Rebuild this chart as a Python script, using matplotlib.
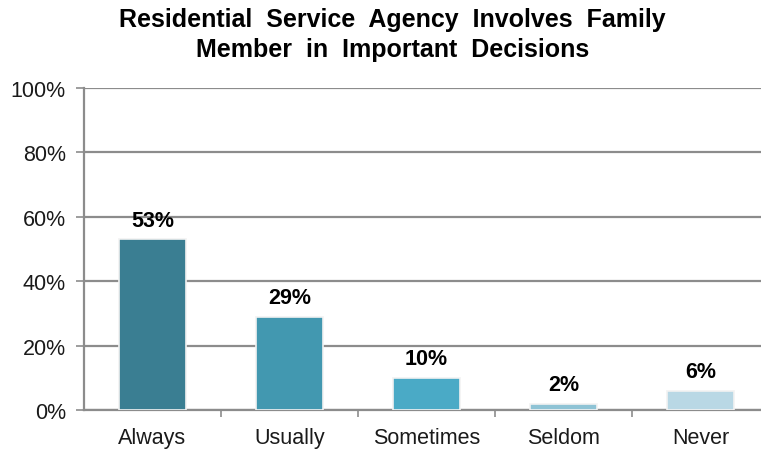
import matplotlib.pyplot as plt
import numpy as np
from matplotlib.ticker import FixedLocator, PercentFormatter

plt.rcParams['font.family'] = ['Liberation Sans', 'DejaVu Sans']

categories = ['Always', 'Usually', 'Sometimes', 'Seldom', 'Never']
shares = [53, 29, 10, 2, 6]
bar_colors = ['#3a7e92', '#4298b0', '#4aaac6', '#8ec3d5', '#b9d8e5']

fig = plt.figure(figsize=(7.61, 4.52), dpi=100)
ax = fig.add_axes([0.1104, 0.0907, 0.900, 0.7124])

x = np.arange(len(categories))
ax.set_xlim(-0.5, len(categories) - 0.5)
ax.set_ylim(0, 100)

# gridlines behind the bars
ax.set_axisbelow(True)
ax.yaxis.grid(True, color='#8c8c8c', linewidth=1.6)

bars = ax.bar(x, shares, width=0.49, color=bar_colors,
              edgecolor='#f2f2f2', linewidth=1.2, zorder=3)

for xi, v in zip(x, shares):
    ax.annotate(f'{v}%', (xi, v), xytext=(0, 6), textcoords='offset points',
                ha='center', va='bottom', fontsize=15.5, fontweight='bold')

ax.set_yticks(range(0, 101, 20))
ax.yaxis.set_major_formatter(PercentFormatter(decimals=0))
ax.tick_params(axis='y', length=6, width=1.2, color='#8c8c8c',
               labelsize=15.5, pad=7, labelcolor='#1a1a1a')

ax.set_xticks(x)
ax.set_xticklabels(categories)
ax.tick_params(axis='x', which='major', length=0, labelsize=15.5, pad=12,
               labelcolor='#1a1a1a')
ax.xaxis.set_minor_locator(FixedLocator(x[:-1] + 0.5))
ax.tick_params(axis='x', which='minor', length=5, width=1.2, color='#8c8c8c')

for side in ['top', 'right']:
    ax.spines[side].set_visible(False)
ax.spines['left'].set_color('#8c8c8c')
ax.spines['left'].set_linewidth(1.6)
ax.spines['bottom'].set_color('#8c8c8c')
ax.spines['bottom'].set_linewidth(1.6)

fig.text(0.516, 0.982,
         'Residential  Service  Agency  Involves  Family\nMember  in  Important  Decisions',
         ha='center', va='top', fontsize=18, fontweight='bold', linespacing=1.3)

fig.savefig('out.png', dpi=100)
